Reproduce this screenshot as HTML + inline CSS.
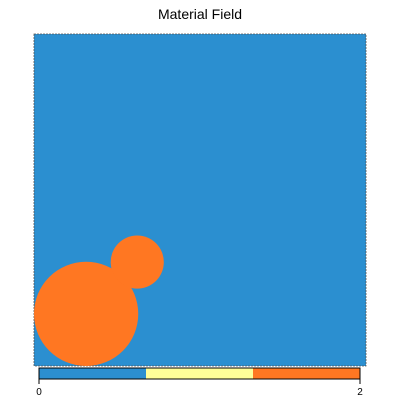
<!DOCTYPE html>
<html><head><meta charset="utf-8"><style>
body{margin:0;background:#fff;width:400px;height:400px;overflow:hidden;font-family:"Liberation Sans",sans-serif}
</style></head><body>
<svg id="chart" width="400" height="400" xmlns="http://www.w3.org/2000/svg">
<text x="200" y="19" text-anchor="middle" font-size="14" fill="#000">Material Field</text>
<g id="plot"></g>
<g id="cbar"></g>
</svg>
<script>
// domain: unit field coordinates 0..1 (x right, y up)
const circleCx = [0.157, 0.311];
const circleCy = [0.157, 0.313];
const circleR = [0.157, 0.080];
const circleMaterial = [2, 2];
const backgroundMaterial = [0];
const cbarValues = [0, 1, 2];
const cbarColors = ['#2b8fd0', '#ffff99', '#ff7722'];
const cbarTickLabels = ['0', '2'];
const cbarTickValues = [0, 2];

const NS = 'http://www.w3.org/2000/svg';
const px0 = 34, px1 = 366, py0 = 34, py1 = 366;
const sx = v => px0 + v * (px1 - px0);
const sy = v => py1 - v * (py1 - py0);
const sr = v => v * (px1 - px0);
function mk(tag, attrs, parent){const e=document.createElementNS(NS,tag);for(const k in attrs)e.setAttribute(k,attrs[k]);parent.appendChild(e);return e;}
const plot = document.getElementById('plot');
const defs = mk('defs', {}, plot);
const cp = mk('clipPath', {id:'clip'}, defs);
mk('rect', {x:px0, y:py0, width:px1-px0, height:py1-py0}, cp);
const bg = mk('rect', {x:px0, y:py0, width:px1-px0, height:py1-py0, fill:cbarColors[backgroundMaterial[0]], stroke:'#555', 'stroke-width':0.8, 'stroke-dasharray':'2 1'}, plot);


const g = mk('g', {'clip-path':'url(#clip)'}, plot);
for (let i = 0; i < circleCx.length; i++) {
  const c = mk('circle', {cx:sx(circleCx[i]), cy:sy(circleCy[i]), r:sr(circleR[i]), fill:cbarColors[circleMaterial[i]]}, g);
  
  
}
// colorbar
const cb = document.getElementById('cbar');
const cx0 = 39, cx1 = 360, cy0 = 368, cy1 = 379;
const vmin = cbarValues[0], vmax = cbarValues[cbarValues.length - 1];
const cbx = v => cx0 + (v - vmin) / (vmax - vmin) * (cx1 - cx0);
const n = cbarColors.length;
for (let i = 0; i < n; i++) {
  const x0 = cx0 + i * (cx1 - cx0) / n, x1 = cx0 + (i + 1) * (cx1 - cx0) / n;
  const r = mk('rect', {x:x0, y:cy0, width:x1 - x0 + 0.3, height:cy1 - cy0, fill:cbarColors[i]}, cb);
  
  
}
mk('rect', {x:cx0, y:cy0, width:cx1-cx0, height:cy1-cy0, fill:'none', stroke:'#000', 'stroke-width':1}, cb);
for (let i = 0; i < cbarTickValues.length; i++) {
  const x = cbx(cbarTickValues[i]);
  mk('line', {x1:x, x2:x, y1:cy1, y2:cy1 + 5, stroke:'#000', 'stroke-width':1}, cb);
  const t = mk('text', {x:x, y:395, 'text-anchor':'middle', 'font-size':10, fill:'#000'}, cb);
  t.textContent = cbarTickLabels[i];
  
  
}
</script>
</body></html>
